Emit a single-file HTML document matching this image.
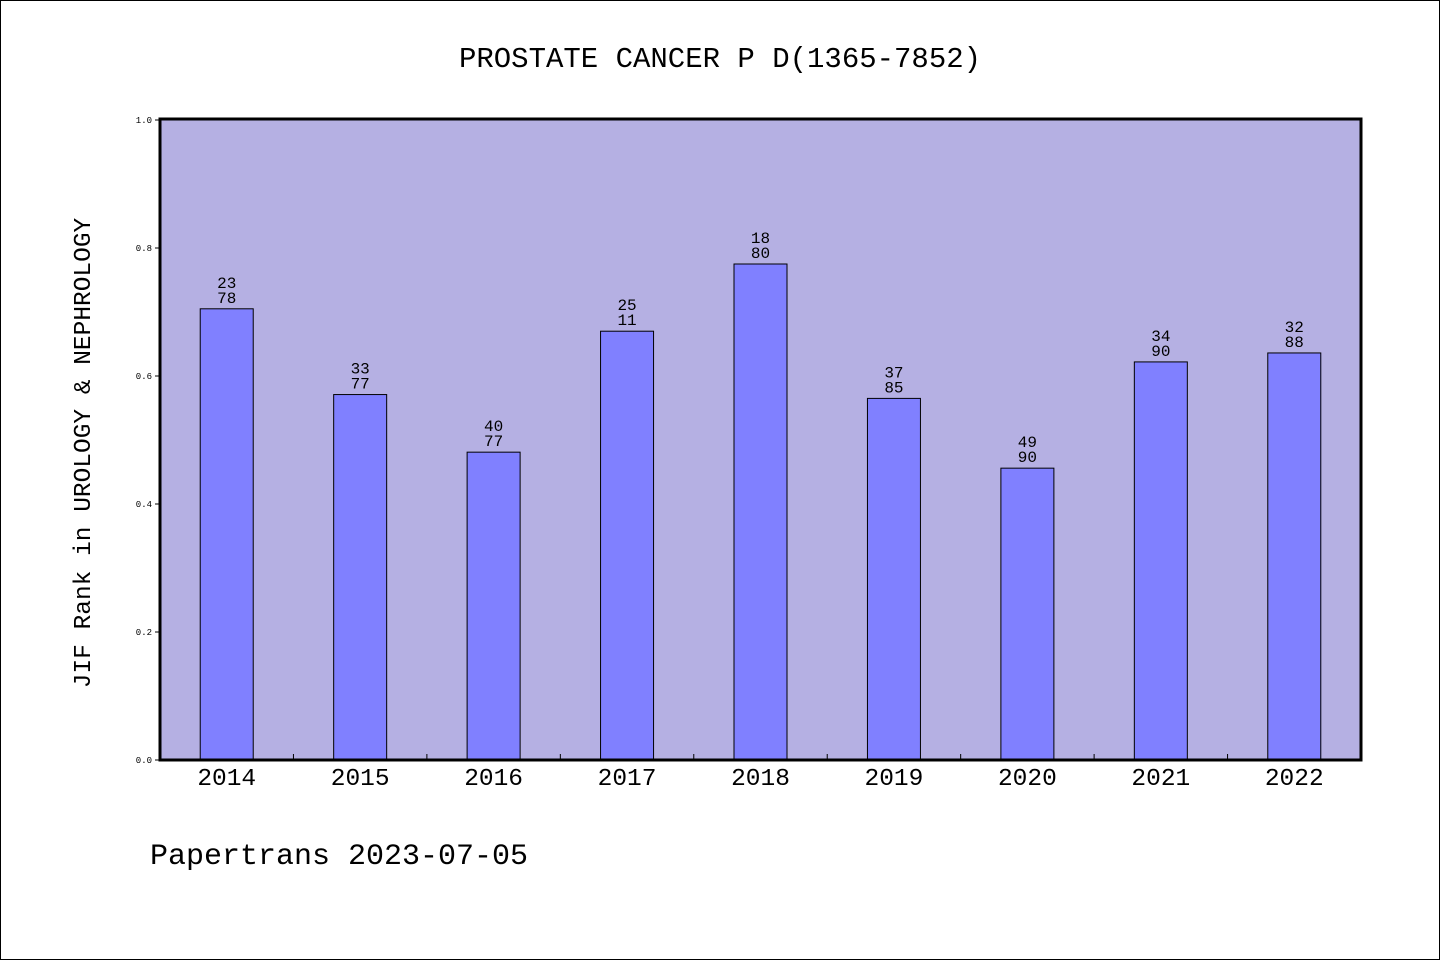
<!DOCTYPE html>
<html><head><meta charset="utf-8"><style>
html,body{margin:0;padding:0;background:#fff;}
svg{display:block;font-family:"Liberation Mono","WenQuanYi Zen Hei",monospace;}
</style></head><body>
<svg id="chart" width="1440" height="960" xmlns="http://www.w3.org/2000/svg">
<rect x="0.5" y="0.5" width="1439" height="959" fill="#fff" stroke="#000"/>
<text x="720" y="67" text-anchor="middle" font-size="29">PROSTATE CANCER P D(1365-7852)</text>
<rect x="160" y="119" width="1201" height="641" fill="#b5b0e3"/>
<g id="bars"></g>
<rect x="160" y="119" width="1201" height="641" fill="none" stroke="#000" stroke-width="3"/>
<text transform="translate(90,453) rotate(-90)" text-anchor="middle" font-size="24.5">JIF Rank in UROLOGY &amp; NEPHROLOGY</text>
<text x="150" y="864" font-size="30">Papertrans 2023-07-05</text>
</svg>
<script>
const categories=["2014","2015","2016","2017","2018","2019","2020","2021","2022"];
const values=[0.705,0.571,0.481,0.670,0.775,0.565,0.456,0.622,0.636];
const rankTop=["23","33","40","25","18","37","49","34","32"];
const rankBottom=["78","77","77","11","80","85","90","90","88"];
const yTicks=["0.0","0.2","0.4","0.6","0.8","1.0"];
const X0=160,X1=1361,Y0=760,Y1=120;
const NS="http://www.w3.org/2000/svg";
const g=document.getElementById('bars');
const step=(X1-X0)/categories.length;
function xc(i){return X0+step*(i+0.5);}
function y(v){return Y0-(Y0-Y1)*v;}
function mk(t,a,txt){const e=document.createElementNS(NS,t);for(const k in a)e.setAttribute(k,a[k]);if(txt!=null)e.textContent=txt;g.appendChild(e);return e;}
yTicks.forEach(t=>{const v=parseFloat(t);
 const l=mk('line',{x1:X0-5,x2:X0,y1:y(v),y2:y(v),stroke:'#000'});
 
 
 const tx=mk('text',{x:X0-8,y:y(v)+3,'text-anchor':'end','font-size':9},t);
 
 
});
const bw=53;
categories.forEach((c,i)=>{
 const r=mk('rect',{x:xc(i)-bw/2,y:y(values[i]),width:bw,height:Y0-y(values[i]),fill:'#8080ff',stroke:'#000','stroke-width':1});
 
 
 const a=mk('text',{x:xc(i),y:y(values[i])-21,'text-anchor':'middle','font-size':16},rankTop[i]);
 
 
 const b=mk('text',{x:xc(i),y:y(values[i])-6,'text-anchor':'middle','font-size':16},rankBottom[i]);
 
 
 const xl=mk('text',{x:xc(i),y:785,'text-anchor':'middle','font-size':24.5},c);
 
 
 if(i>0){const t=mk('line',{x1:X0+step*i,x2:X0+step*i,y1:Y0,y2:Y0-6,stroke:'#000'});
 
 }
});
</script>
</body></html>
